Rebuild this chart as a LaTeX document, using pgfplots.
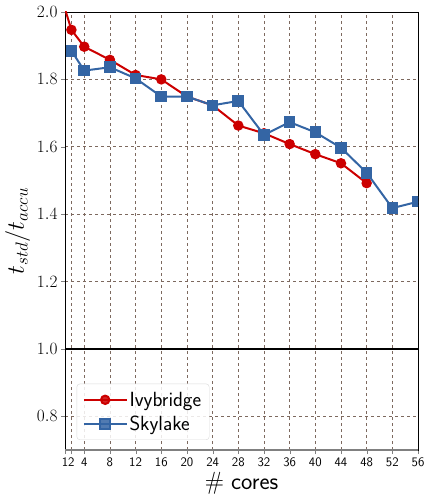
\documentclass[border=0pt]{standalone}
\usepackage{pgfplots}
\pgfplotsset{compat=1.18}
\definecolor{ivy}{RGB}{204,0,0}
\definecolor{sky}{RGB}{52,101,164}
\definecolor{gridc}{RGB}{125,105,95}
\begin{document}
\begin{tikzpicture}
\path[use as bounding box] (-65pt,-44pt) rectangle (360pt,450pt);
\begin{axis}[
  at={(0,0)}, anchor=south west,
  scale only axis, width=353pt, height=438pt,
  xmin=1, xmax=56, ymin=0.7, ymax=2.0,
  clip marker paths=true,
  xtick={1,2,4,8,12,16,20,24,28,32,36,40,44,48,52,56},
  xticklabels={1,2,4,8,12,16,20,24,28,32,36,40,44,48,52,56},
  xticklabel style={font=\sffamily\fontsize{13}{15}\selectfont},
  ytick={0.8,1.0,1.2,1.4,1.6,1.8,2.0},
  yticklabel style={font=\fontsize{17}{19}\selectfont, /pgf/number format/fixed, /pgf/number format/fixed zerofill, /pgf/number format/precision=1},
  grid=major, grid style={dashed, gridc, line width=0.6pt},
  tick align=outside, xtick pos=bottom, ytick pos=left,
  major tick length=4pt,
  axis line style={line width=0.9pt},
  xlabel={\fontsize{24}{26}\selectfont$\#$ \sffamily cores},
  ylabel={\fontsize{24}{26}\selectfont$t_{std}/t_{accu}$},
  xlabel style={yshift=1pt},
  ylabel style={yshift=0pt},
  legend style={at={(0.033,0.023)}, anchor=south west, font=\sffamily\fontsize{20.5}{22}\selectfont,
    rounded corners=3pt, draw=gray!30, fill=white, fill opacity=0.85, text opacity=1,
    inner xsep=6pt, inner ysep=6pt, row sep=4pt},
  legend cell align=left,
  legend image code/.code={
    \draw[mark repeat=2,mark phase=2,#1] plot coordinates {(0cm,0cm) (0.75cm,0cm) (1.5cm,0cm)};
  },
]
\addplot[black, line width=1.6pt, forget plot] coordinates {(1,1) (56,1)};
\addplot[ivy, line width=2pt, mark=*, mark size=4.2pt] coordinates {
(1,2.009) (2,1.947) (4,1.897) (8,1.858) (12,1.813) (16,1.800) (20,1.749) (24,1.723)
(28,1.663) (32,1.640) (36,1.608) (40,1.578) (44,1.551) (48,1.492)};
\addlegendentry{Ivybridge}
\addplot[sky, line width=2pt, mark=square*, mark size=4.8pt] coordinates {
(2,1.885) (4,1.826) (8,1.836) (12,1.803) (16,1.749) (20,1.749) (24,1.723)
(28,1.736) (32,1.635) (36,1.673) (40,1.643) (44,1.597) (48,1.523) (52,1.418) (56,1.437)};
\addlegendentry{Skylake}
\draw[gray, line width=1.6pt] (rel axis cs:0,0) -- (rel axis cs:1,0);
\end{axis}
\end{tikzpicture}
\end{document}
